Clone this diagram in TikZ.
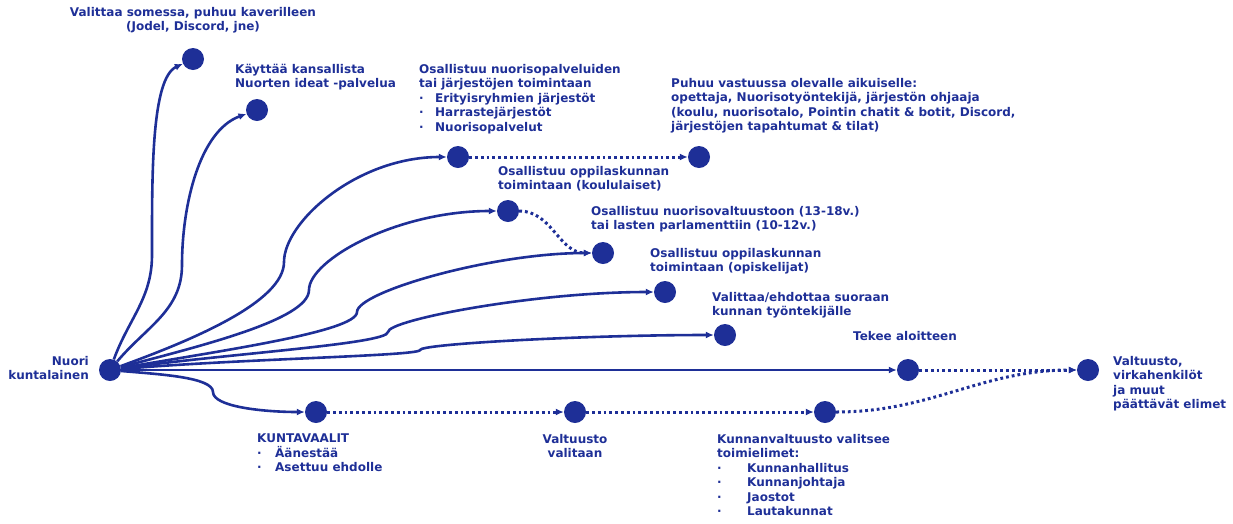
\documentclass[tikz,border=0pt]{standalone}
\usepackage{fontspec}
\setmainfont{DejaVu Sans}
\usetikzlibrary{arrows.meta}
\definecolor{navy}{RGB}{30,47,151}
\newcommand{\itm}[2][16pt]{\makebox[#1][l]{·}#2}
\begin{document}
\begin{tikzpicture}[x=1pt,y=1pt,
    dot/.style={circle, fill=navy, minimum size=22pt, inner sep=0pt},
    lbl/.style={anchor=north west, inner sep=0pt, align=left, text=navy, font=\fontsize{12}{14.5}\selectfont\bfseries},
    link/.style={draw=navy, line width=2.6pt, -{Latex[length=8pt,width=7pt]}},
    dotlink/.style={link, line width=3pt, dash pattern=on 2.8pt off 3pt}]
    \useasboundingbox (0,0) rectangle (1233,-523);
    % pisteet
    \node[dot] (N0) at (110,-370) {};
    \node[dot] (A) at (193,-59) {};
    \node[dot] (B) at (257,-110) {};
    \node[dot] (C) at (458,-157) {};
    \node[dot] (C2) at (699,-157) {};
    \node[dot] (D) at (508,-211) {};
    \node[dot] (E) at (603,-253) {};
    \node[dot] (F) at (665,-292) {};
    \node[dot] (G) at (725,-335) {};
    \node[dot] (H) at (908,-370) {};
    \node[dot] (I) at (1088,-370) {};
    \node[dot] (K) at (316,-412) {};
    \node[dot] (L) at (575,-412) {};
    \node[dot] (M) at (825,-412) {};
    % tekstit
    \node[lbl, anchor=north, align=center] (lA) at (193,-7) {Valittaa somessa, puhuu kaverilleen\\(Jodel, Discord, jne)};
    \node[lbl] (lB) at (235,-64) {Käyttää kansallista\\Nuorten ideat -palvelua};
    \node[lbl] (lC) at (419,-64) {Osallistuu nuorisopalveluiden\\tai järjestöjen toimintaan\\\itm{Erityisryhmien järjestöt}\\\itm{Harrastejärjestöt}\\\itm{Nuorisopalvelut}};
    \node[lbl] (lC2) at (671,-78) {Puhuu vastuussa olevalle aikuiselle:\\opettaja, Nuorisotyöntekijä, järjestön ohjaaja\\(koulu, nuorisotalo, Pointin chatit \& botit, Discord,\\järjestöjen tapahtumat \& tilat)};
    \node[lbl] (lD) at (498,-166) {Osallistuu oppilaskunnan\\toimintaan (koululaiset)};
    \node[lbl] (lE) at (591,-206) {Osallistuu nuorisovaltuustoon (13-18v.)\\tai lasten parlamenttiin (10-12v.)};
    \node[lbl] (lF) at (650,-248) {Osallistuu oppilaskunnan\\toimintaan (opiskelijat)};
    \node[lbl] (lG) at (712,-292) {Valittaa/ehdottaa suoraan\\kunnan työntekijälle};
    \node[lbl] (lH) at (853,-331) {Tekee aloitteen};
    \node[lbl, anchor=north east, align=right] (lN0) at (89,-356) {Nuori\\kuntalainen};
    \node[lbl] (lI) at (1113,-356) {Valtuusto,\\virkahenkilöt\\ja muut\\päättävät elimet};
    \node[lbl] (lK) at (257,-434) {KUNTAVAALIT\\\itm[18pt]{Äänestää}\\\itm[18pt]{Asettuu ehdolle}};
    \node[lbl, anchor=north, align=center] (lL) at (575,-434) {Valtuusto\\valitaan};
    \node[lbl] (lM) at (717,-434) {Kunnanvaltuusto valitsee\\toimielimet:\\\itm[30pt]{Kunnanhallitus}\\\itm[30pt]{Kunnanjohtaja}\\\itm[30pt]{Jaostot}\\\itm[30pt]{Lautakunnat}};
    % mutkat
    \coordinate (a1) at (152,-255);
    \coordinate (b1) at (182,-265);
    \coordinate (c1) at (284,-262);
    \coordinate (d1) at (309,-290);
    \coordinate (e1) at (357,-312);
    \coordinate (f1) at (388,-332);
    \coordinate (g1) at (420,-350);
    \coordinate (k1) at (213,-392);
    \draw[link] (N0) to[out=70,in=-90] (a1) to[out=90,in=205,out distance=80pt,in distance=35pt] (A);
    \draw[link] (N0) to[out=50,in=-90] (b1) to[out=90,in=200,out distance=60pt,in distance=50pt] (B);
    \draw[link] (N0) to[out=20,in=-90,in distance=40pt] (c1) to[out=90,in=180,out distance=40pt,in distance=90pt] (C);
    \draw[link] (N0) to[out=15,in=-90,in distance=30pt] (d1) to[out=90,in=180,out distance=30pt,in distance=100pt] (D);
    \draw[link] (N0) to[out=10,in=-90,in distance=20pt] (e1) to[out=90,in=180,out distance=20pt,in distance=100pt] (E);
    \draw[link] (N0) to[out=8,in=-90,in distance=12pt] (f1) to[out=90,in=180,out distance=12pt,in distance=120pt] (F);
    \draw[link] (N0) to[out=5,in=-90,in distance=6pt] (g1) to[out=90,in=180,out distance=6pt,in distance=130pt] (G);
    \draw[link] (N0) -- (H);
    \draw[link] (N0) to[out=-5,in=90,in distance=15pt] (k1) to[out=-90,in=180,out distance=15pt,in distance=40pt] (K);
    \draw[dotlink] (C) -- (C2);
    \draw[dotlink] (D) to[out=0,in=180] (E);
    \draw[dotlink] (H) -- (I);
    \draw[dotlink] (K) -- (L);
    \draw[dotlink] (L) -- (M);
    \draw[dotlink] (M) to[out=0,in=180] (I);
\end{tikzpicture}
\end{document}
